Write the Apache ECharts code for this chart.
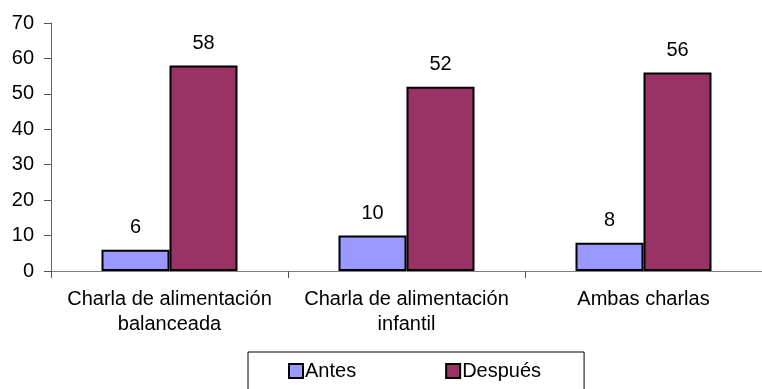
<!DOCTYPE html>
<html>
<head>
<meta charset="utf-8">
<script src="https://cdn.jsdelivr.net/npm/echarts@6/dist/echarts.min.js"></script>
<style>
  html, body { margin: 0; padding: 0; background: #fff; }
  #chart { width: 762px; height: 389px; }
</style>
</head>
<body>
<div id="chart"></div>
<script>
const categories = ['Charla de alimentación\nbalanceada', 'Charla de alimentación\ninfantil', 'Ambas charlas'];
const antes = [6, 10, 8];
const despues = [58, 52, 56];
const yTicks = { min: 0, max: 70, interval: 10 };

const font = 'Liberation Sans, Arial, sans-serif';
const myChart = echarts.init(document.getElementById('chart'));

const labelStyle = {
  show: true,
  position: 'top',
  distance: 12,
  color: '#000',
  fontSize: 20,
  fontFamily: font
};

const option = {
  animation: false,
  grid: { left: 51, right: -6, top: 23, bottom: 118 },
  legend: {
    left: 248,
    top: 352,
    padding: [9, 43, 20, 40],
    borderColor: '#000',
    borderWidth: 1,
    itemWidth: 14,
    itemHeight: 14,
    itemGap: 89,
    icon: 'rect',
    textStyle: { color: '#000', fontSize: 20, fontFamily: font, padding: [0, 0, 0, -3] },
    data: ['Antes', 'Después']
  },
  xAxis: {
    type: 'category',
    data: categories,
    axisLine: { lineStyle: { color: '#808080', width: 1 } },
    axisTick: { show: true, length: 7, lineStyle: { color: '#555' } },
    axisLabel: {
      color: '#000',
      fontSize: 20,
      fontFamily: font,
      lineHeight: 25,
      margin: 16,
      interval: 0
    }
  },
  yAxis: {
    type: 'value',
    min: yTicks.min,
    max: yTicks.max,
    interval: yTicks.interval,
    splitLine: { show: false },
    axisLine: { show: true, lineStyle: { color: '#666', width: 1 } },
    axisTick: { show: true, length: 7, lineStyle: { color: '#555' } },
    axisLabel: { color: '#000', fontSize: 20, fontFamily: font, margin: 17 }
  },
  series: [
    {
      name: 'Antes',
      type: 'bar',
      data: antes,
      barWidth: 68,
      barGap: '0%',
      itemStyle: { color: '#9999FF', borderColor: '#000', borderWidth: 2 },
      label: labelStyle
    },
    {
      name: 'Después',
      type: 'bar',
      data: despues,
      barWidth: 68,
      itemStyle: { color: '#993366', borderColor: '#000', borderWidth: 2 },
      label: labelStyle
    }
  ]
};

myChart.setOption(option);
</script>
</body>
</html>
